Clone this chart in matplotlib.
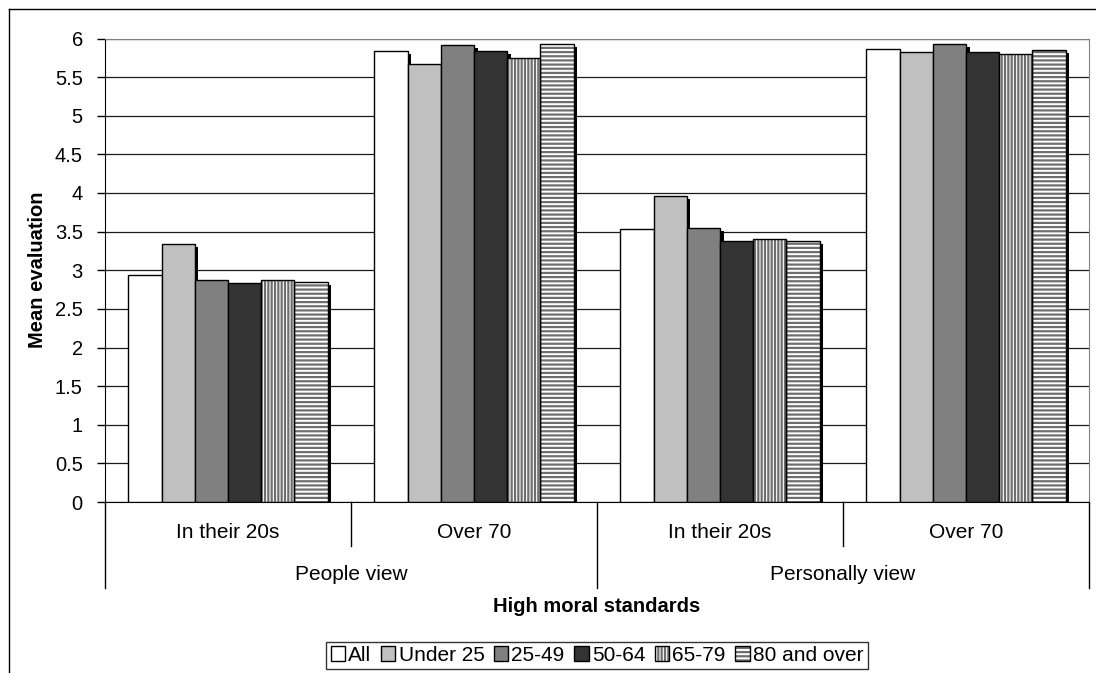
import matplotlib
matplotlib.use("Agg")
import matplotlib.pyplot as plt
from matplotlib.patches import Patch, Rectangle
from matplotlib.lines import Line2D
from matplotlib.legend_handler import HandlerBase
import numpy as np

plt.rcParams['font.family'] = ['Liberation Sans', 'DejaVu Sans']
plt.rcParams['hatch.linewidth'] = 1.6

groups = ["In their 20s", "Over 70", "In their 20s", "Over 70"]
views = ["People view", "Personally view"]
series = ["All", "Under 25", "25-49", "50-64", "65-79", "80 and over"]
all_v      = [2.94, 5.84, 3.54, 5.86]
under25_v  = [3.34, 5.67, 3.96, 5.82]
v25_49     = [2.88, 5.92, 3.55, 5.93]
v50_64     = [2.84, 5.84, 3.38, 5.82]
v65_79     = [2.88, 5.75, 3.41, 5.80]
v80_over   = [2.85, 5.93, 3.38, 5.85]
values = [all_v, under25_v, v25_49, v50_64, v65_79, v80_over]

faces = ["#FFFFFF", "#C0C0C0", "#808080", "#333333", "#FFFFFF", "#FFFFFF"]
hatches = [None, None, None, None, "|||||", "----"]
hatch_col = "#6E6E6E"

W, H = 1096, 673
fig = plt.figure(figsize=(W / 100, H / 100), dpi=100)
ax_l, ax_r, ax_t, ax_b = 105, 1089, 38.5, 502
ax = fig.add_axes([ax_l / W, 1 - ax_b / H, (ax_r - ax_l) / W, (ax_b - ax_t) / H])

def ay(py):
    return (ax_b - py) / (ax_b - ax_t)

x = np.arange(len(groups))
bw = 0.135
dx = 3.5 / ((ax_r - ax_l) / 4)
dy = 3.0 / ((ax_b - ax_t) / 6)


class HandlerBox(HandlerBase):
    def __init__(self, face, hatch):
        super().__init__()
        self.face = face
        self.hatch = hatch

    def create_artists(self, legend, orig_handle, xdescent, ydescent, width, height, fontsize, trans):
        arts = []
        if self.hatch:
            arts.append(Rectangle((-xdescent, -ydescent), width, height, facecolor=self.face,
                                  edgecolor=hatch_col, hatch=self.hatch, linewidth=0, transform=trans))
            arts.append(Rectangle((-xdescent, -ydescent), width, height, fill=False,
                                  edgecolor="black", linewidth=1.0, transform=trans))
        else:
            arts.append(Rectangle((-xdescent, -ydescent), width, height, facecolor=self.face,
                                  edgecolor="black", linewidth=1.0, transform=trans))
        return arts


handles = []
hmap = {}
for i, (vals, fc, h) in enumerate(zip(values, faces, hatches)):
    xs = x + (i - 2.5) * bw
    ax.bar(xs + dx, np.array(vals) - dy, width=bw, color="black", zorder=2, linewidth=0)
    if h is None:
        ax.bar(xs, vals, width=bw, color=fc, edgecolor="black", linewidth=1.0, zorder=3)
    else:
        ax.bar(xs, vals, width=bw, facecolor=fc, edgecolor=hatch_col, hatch=h, linewidth=0, zorder=3)
        ax.bar(xs, vals, width=bw, fill=False, edgecolor="black", linewidth=1.0, zorder=4)
    hd = Patch(facecolor=fc)
    handles.append(hd)
    hmap[hd] = HandlerBox(fc, h)

ax.set_xlim(-0.5, 3.5)
ax.set_ylim(0, 6)
ax.set_yticks(np.arange(0, 6.01, 0.5))
ax.set_yticklabels(["0", "0.5", "1", "1.5", "2", "2.5", "3", "3.5", "4", "4.5", "5", "5.5", "6"])
ax.yaxis.grid(True, color="#1a1a1a", linewidth=0.9)
ax.set_axisbelow(True)
ax.tick_params(axis="y", length=6, width=1, pad=10, labelsize=14.5, direction="out")
ax.tick_params(axis="x", length=0, labelbottom=False)
ax.set_xticks([])
ax.spines["left"].set_color("black")
ax.spines["bottom"].set_color("black")
ax.spines["top"].set_color("#808080")
ax.spines["right"].set_color("#808080")

tr = ax.get_xaxis_transform()
for xi, g in zip(x, groups):
    ax.text(xi, ay(532), g, transform=tr, ha="center", va="center", fontsize=15, clip_on=False)
for vi, v in enumerate(views):
    ax.text(0.5 + 2 * vi, ay(575), v, transform=tr, ha="center", va="center", fontsize=15, clip_on=False)
for bx in [-0.5, 1.5, 3.5]:
    ax.add_line(Line2D([bx, bx], [0, ay(588)], transform=tr, color="black", linewidth=1.0, clip_on=False))
for bx in [0.5, 2.5]:
    ax.add_line(Line2D([bx, bx], [0, ay(546)], transform=tr, color="black", linewidth=1.0, clip_on=False))

fig.text((ax_l + ax_r) / 2 / W, 1 - 607 / H, "High moral standards", ha="center", va="center",
         fontsize=14.5, fontweight="bold")
fig.text(38 / W, 1 - 270 / H, "Mean evaluation", ha="center", va="center", rotation=90,
         fontsize=14.5, fontweight="bold")

leg = fig.legend(handles, series, loc="center", bbox_to_anchor=(597 / W, 1 - 655.5 / H),
                 ncol=6, frameon=True, fancybox=False, fontsize=15,
                 handlelength=0.7, handleheight=0.7, handletextpad=0.15, columnspacing=0.45,
                 borderpad=0.2, borderaxespad=0, handler_map=hmap)
leg.get_frame().set_edgecolor("black")
leg.get_frame().set_linewidth(1.0)

fig.add_artist(Line2D([9 / W, 9 / W], [0, 1 - 9 / H], transform=fig.transFigure, color="black", linewidth=1.0))
fig.add_artist(Line2D([9 / W, 1], [1 - 9 / H, 1 - 9 / H], transform=fig.transFigure, color="black", linewidth=1.0))

fig.savefig("out.png", dpi=100)
